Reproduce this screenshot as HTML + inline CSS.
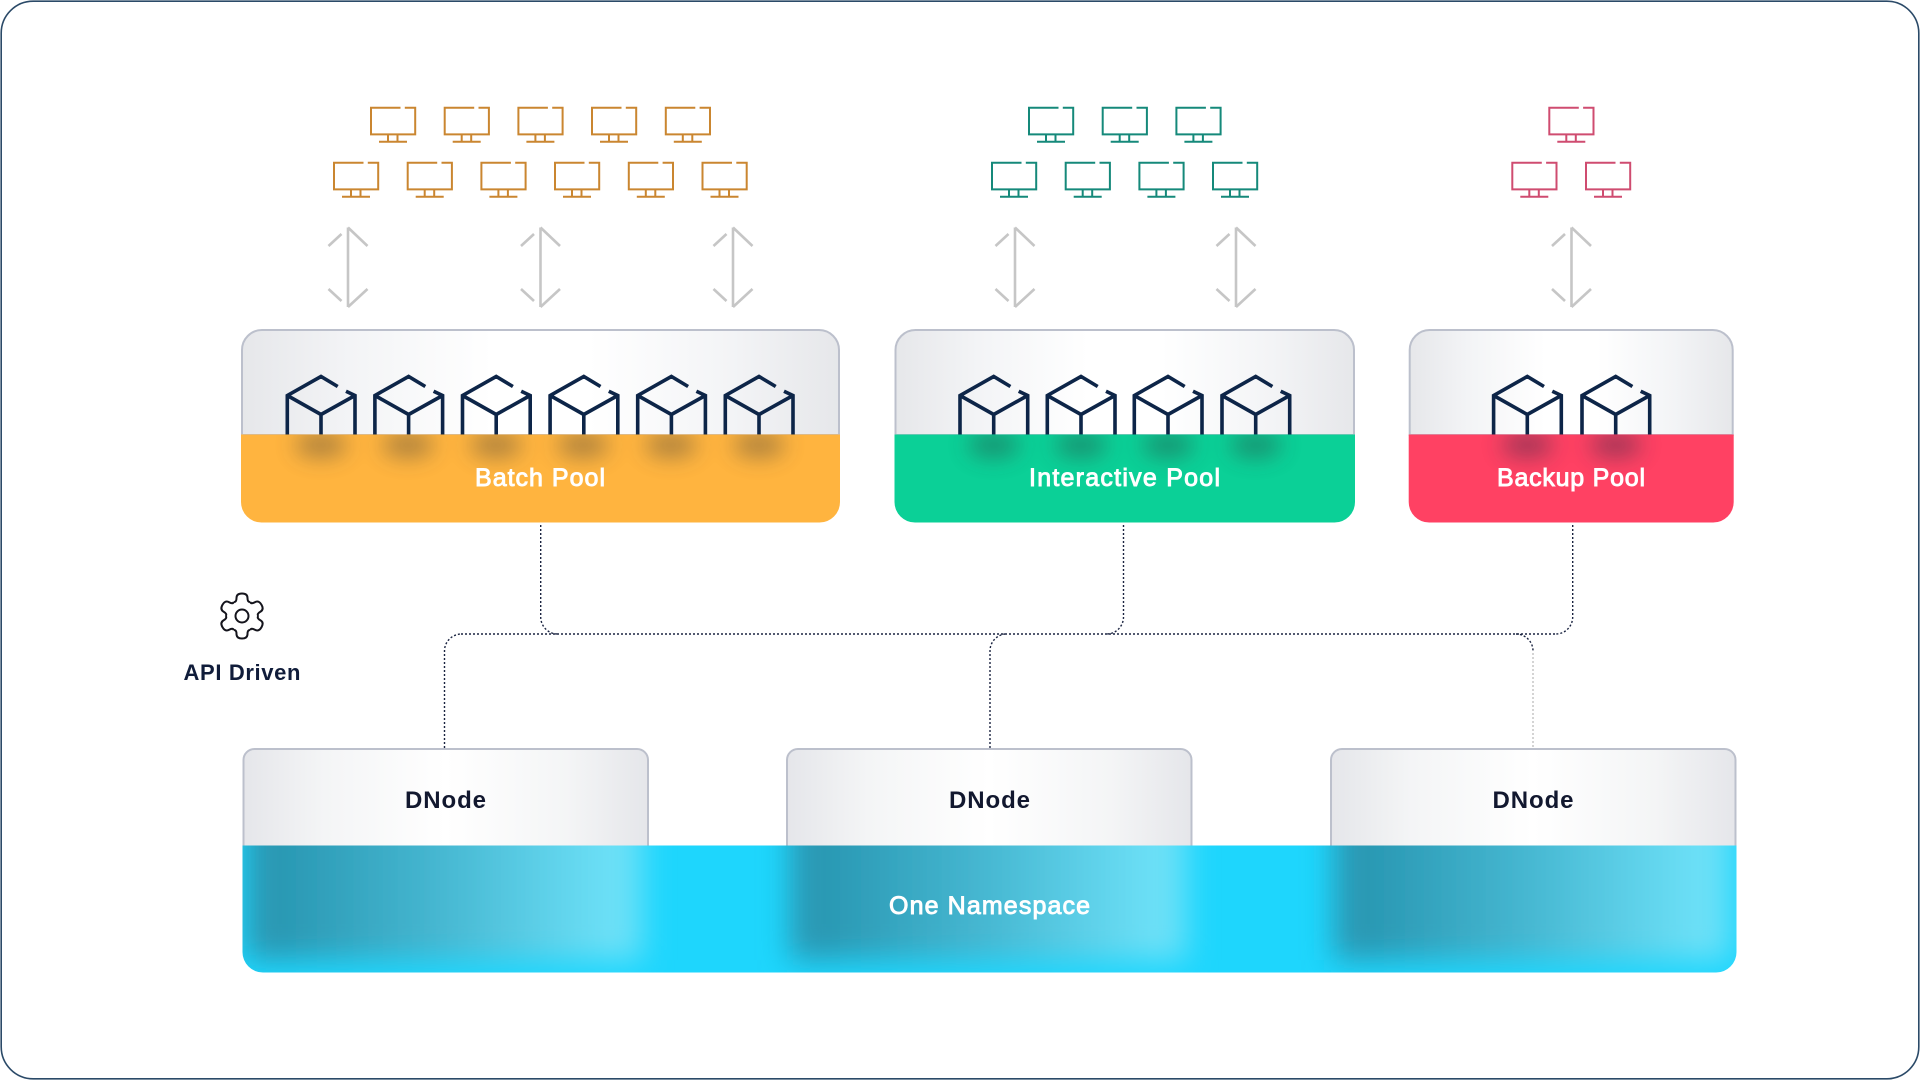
<!DOCTYPE html>
<html><head><meta charset="utf-8"><style>
html,body{margin:0;padding:0;background:#fff;width:1920px;height:1080px;overflow:hidden}
svg{display:block}
text{font-family:"Liberation Sans",sans-serif}
.w{fill:#fff;font-size:25px;stroke:#fff;stroke-width:.9px;text-anchor:middle}
.d{fill:#12182f;font-size:24px;font-weight:bold;text-anchor:middle}
.con{fill:none;stroke:#1a2340;stroke-width:1.4;stroke-dasharray:2 2}
</style></head><body>
<svg width="1920" height="1080" viewBox="0 0 1920 1080" xmlns="http://www.w3.org/2000/svg">
<defs>
<linearGradient id="pg" x1="0" x2="1" y1="0" y2="0"><stop offset="0" stop-color="#e6e7ea"/><stop offset=".18" stop-color="#f3f4f6"/><stop offset=".42" stop-color="#fff"/><stop offset=".58" stop-color="#fff"/><stop offset=".82" stop-color="#f3f4f6"/><stop offset="1" stop-color="#e6e7ea"/></linearGradient>
<linearGradient id="dg" x1="0" x2="1" y1="0" y2="0"><stop offset="0" stop-color="#e5e6ea"/><stop offset=".2" stop-color="#f4f5f6"/><stop offset=".5" stop-color="#fff"/><stop offset=".8" stop-color="#f4f5f6"/><stop offset="1" stop-color="#e5e6ea"/></linearGradient>
<linearGradient id="cy" x1="0" x2="1" y1="0" y2="0"><stop offset="0" stop-color="#2a97b2"/><stop offset=".1" stop-color="#2a99b4"/><stop offset=".5" stop-color="#47b8d2"/><stop offset=".92" stop-color="#6ce0f7"/><stop offset="1" stop-color="#6ce0f7"/></linearGradient>
<filter id="b1" x="-60%" y="-100%" width="220%" height="300%"><feGaussianBlur stdDeviation="11"/></filter>
<filter id="b2" x="-20%" y="-40%" width="140%" height="180%"><feGaussianBlur stdDeviation="15"/></filter>
<clipPath id="cb"><rect x="241" y="435" width="599" height="88"/></clipPath>
<clipPath id="ci"><rect x="894" y="435" width="462" height="88"/></clipPath>
<clipPath id="cr"><rect x="1408" y="435" width="326" height="88"/></clipPath>
<clipPath id="cc"><path d="M242.5 845.5H1736.5V952a20.5 20.5 0 0 1-20.5 20.5H263a20.5 20.5 0 0 1-20.5-20.5Z"/></clipPath>
<g id="m" fill="none" stroke-width="2">
<path d="M30.5 .8H1V27.4H45.2V.8H34.8"/>
<path d="M18 27.4V34.5M27.5 27.4V34.5M9 34.8H37"/>
</g>
<g id="a" fill="none" stroke="#c6c6c6" stroke-width="2.6">
<path d="M0 .5V80M0 .5L19.5 19M-19.5 19L-6.5 7M-19.5 62L-6.5 74M19.5 62L0 80"/>
</g>
<g id="c" fill="none" stroke="#0d2548" stroke-width="3.6">
<path d="M-33.7 58V19L0 0L16.7 10M25 14.7L34 19V58M-33.7 19L0 38L34 19M0 38V58"/>
</g>
<path id="t" d="M-8.2-14.2Q-5.5-13.5-5.5-18Q-5.5-22.5 0-22.5Q5.5-22.5 5.5-18Q5.5-13.5 8.2-14.2"/>
</defs>

<rect x="1.2" y="1.2" width="1917.6" height="1077.6" rx="32" fill="#fff" stroke="#2b4a68" stroke-width="1.6"/>

<g stroke="#ca8630">
<use href="#m" x="370" y="107"/><use href="#m" x="443.7" y="107"/><use href="#m" x="517.4" y="107"/><use href="#m" x="591" y="107"/><use href="#m" x="664.8" y="107"/>
<use href="#m" x="333" y="162"/><use href="#m" x="406.7" y="162"/><use href="#m" x="480.4" y="162"/><use href="#m" x="554" y="162"/><use href="#m" x="627.8" y="162"/><use href="#m" x="701.5" y="162"/>
</g>
<g stroke="#15897a">
<use href="#m" x="1028" y="107"/><use href="#m" x="1101.7" y="107"/><use href="#m" x="1175.4" y="107"/>
<use href="#m" x="991" y="162"/><use href="#m" x="1064.7" y="162"/><use href="#m" x="1138.4" y="162"/><use href="#m" x="1212" y="162"/>
</g>
<g stroke="#cf4c70">
<use href="#m" x="1548.3" y="107"/>
<use href="#m" x="1511.3" y="162"/><use href="#m" x="1585" y="162"/>
</g>

<use href="#a" x="348" y="227"/><use href="#a" x="540.5" y="227"/><use href="#a" x="733" y="227"/>
<use href="#a" x="1015" y="227"/><use href="#a" x="1236" y="227"/>
<use href="#a" x="1571.5" y="227"/>

<!-- connectors -->
<path class="con" d="M461 634H1556"/>
<path class="con" d="M540.7 525V617a17 17 0 0 0 17 17"/>
<path class="con" d="M1123.5 525V617a17 17 0 0 1-17 17"/>
<path class="con" d="M1572.7 525V617a17 17 0 0 1-17 17"/>
<path class="con" d="M444.5 748V651a17 17 0 0 1 17-17"/>
<path class="con" d="M990 748V651a17 17 0 0 1 15-17"/>
<path class="con" d="M1516 634a17 17 0 0 1 17 17"/>
<path fill="none" stroke="#a8a8a8" stroke-width="1" stroke-dasharray="2 2" d="M1533 653V748"/>

<!-- Batch pool -->
<path d="M242 435V350a20 20 0 0 1 20-20H819a20 20 0 0 1 20 20V435Z" fill="url(#pg)" stroke="#bcc0cc" stroke-width="2"/>
<g><use href="#c" x="321" y="376.5"/><use href="#c" x="408.6" y="376.5"/><use href="#c" x="496.2" y="376.5"/><use href="#c" x="583.8" y="376.5"/><use href="#c" x="671.4" y="376.5"/><use href="#c" x="759" y="376.5"/></g>
<path d="M241 434.5H840V502a20.5 20.5 0 0 1-20.5 20.5H261.5A20.5 20.5 0 0 1 241 502Z" fill="#ffb43f"/>
<g clip-path="url(#cb)"><g fill="#3a3a3a" opacity=".4" filter="url(#b1)">
<ellipse cx="321" cy="445" rx="26" ry="13"/><ellipse cx="408" cy="445" rx="26" ry="13"/><ellipse cx="496" cy="445" rx="26" ry="13"/><ellipse cx="583" cy="445" rx="26" ry="13"/><ellipse cx="671" cy="445" rx="26" ry="13"/><ellipse cx="759" cy="445" rx="26" ry="13"/>
</g></g>
<text class="w" x="540" y="486" textLength="130" lengthAdjust="spacing">Batch Pool</text>

<!-- Interactive pool -->
<path d="M895.5 435V350a20 20 0 0 1 20-20H1334a20 20 0 0 1 20 20V435Z" fill="url(#pg)" stroke="#bcc0cc" stroke-width="2"/>
<g><use href="#c" x="993.7" y="376.5"/><use href="#c" x="1081" y="376.5"/><use href="#c" x="1168" y="376.5"/><use href="#c" x="1255.7" y="376.5"/></g>
<path d="M894.5 434.5H1355V502a20.5 20.5 0 0 1-20.5 20.5H915A20.5 20.5 0 0 1 894.5 502Z" fill="#0bd097"/>
<g clip-path="url(#ci)"><g fill="#2a3a3a" opacity=".4" filter="url(#b1)">
<ellipse cx="993.7" cy="445" rx="26" ry="13"/><ellipse cx="1081" cy="445" rx="26" ry="13"/><ellipse cx="1168" cy="445" rx="26" ry="13"/><ellipse cx="1255.7" cy="445" rx="26" ry="13"/>
</g></g>
<text class="w" x="1124.5" y="486" textLength="191" lengthAdjust="spacing">Interactive Pool</text>

<!-- Backup pool -->
<path d="M1409.7 435V350a20 20 0 0 1 20-20H1712.7a20 20 0 0 1 20 20V435Z" fill="url(#pg)" stroke="#bcc0cc" stroke-width="2"/>
<g><use href="#c" x="1527.3" y="376.5"/><use href="#c" x="1615.7" y="376.5"/></g>
<path d="M1408.7 434.5H1733.7V502a20.5 20.5 0 0 1-20.5 20.5H1429.2A20.5 20.5 0 0 1 1408.7 502Z" fill="#ff4163"/>
<g clip-path="url(#cr)"><g fill="#3a2a4a" opacity=".46" filter="url(#b1)">
<ellipse cx="1527.3" cy="445" rx="26" ry="13"/><ellipse cx="1615.7" cy="445" rx="26" ry="13"/>
</g></g>
<text class="w" x="1571" y="486" textLength="148" lengthAdjust="spacing">Backup Pool</text>

<!-- gear -->
<g transform="translate(242 616)" fill="none" stroke="#14141c" stroke-width="2">
<use href="#t"/><use href="#t" transform="rotate(60)"/><use href="#t" transform="rotate(120)"/><use href="#t" transform="rotate(180)"/><use href="#t" transform="rotate(240)"/><use href="#t" transform="rotate(300)"/>
<circle r="6.5"/>
</g>
<text x="242" y="680" font-size="22" font-weight="bold" fill="#101c3a" text-anchor="middle" textLength="117" lengthAdjust="spacing">API Driven</text>

<!-- DNodes -->
<rect x="243.5" y="749" width="404.5" height="110" rx="11" fill="url(#dg)" stroke="#bcc0cc" stroke-width="2"/>
<rect x="787" y="749" width="404.5" height="110" rx="11" fill="url(#dg)" stroke="#bcc0cc" stroke-width="2"/>
<rect x="1331" y="749" width="404.5" height="110" rx="11" fill="url(#dg)" stroke="#bcc0cc" stroke-width="2"/>
<text class="d" x="445.5" y="808" textLength="81" lengthAdjust="spacing">DNode</text>
<text class="d" x="989.5" y="808" textLength="81" lengthAdjust="spacing">DNode</text>
<text class="d" x="1533" y="808" textLength="81" lengthAdjust="spacing">DNode</text>

<!-- Namespace -->
<path d="M242.5 845.5H1736.5V952a20.5 20.5 0 0 1-20.5 20.5H263a20.5 20.5 0 0 1-20.5-20.5Z" fill="#1ed6fd"/>
<g clip-path="url(#cc)">
<rect x="246" y="790" width="396" height="170" fill="url(#cy)" filter="url(#b2)"/>
<rect x="790" y="790" width="396" height="170" fill="url(#cy)" filter="url(#b2)"/>
<rect x="1334" y="790" width="396" height="170" fill="url(#cy)" filter="url(#b2)"/>
</g>
<text class="w" x="989.5" y="914" textLength="201" lengthAdjust="spacing">One Namespace</text>
</svg>
</body></html>
